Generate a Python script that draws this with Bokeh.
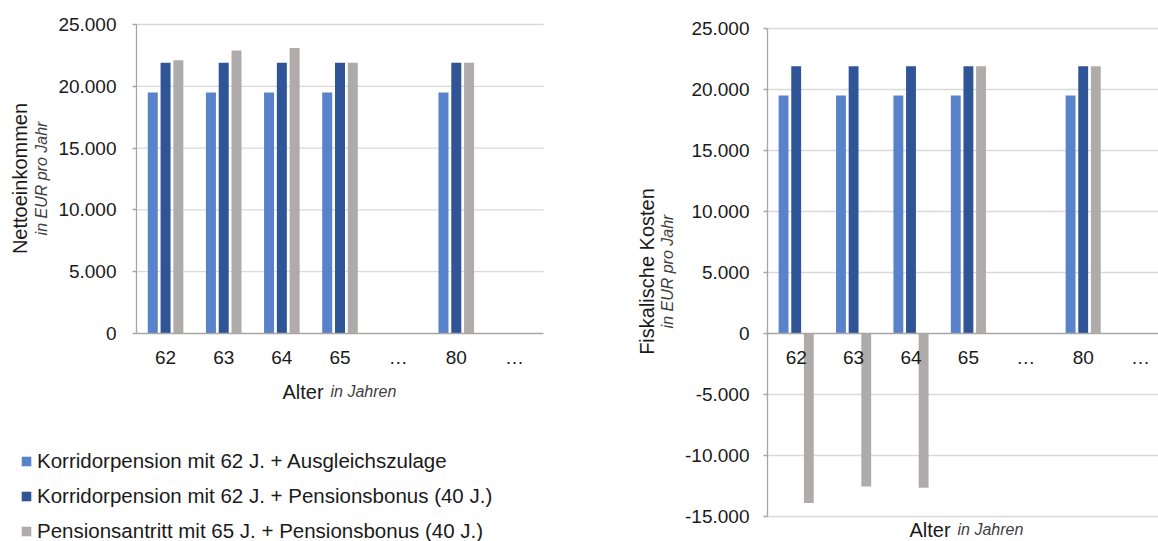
import math

from bokeh.embed import file_html
from bokeh.layouts import row
from bokeh.models import FixedTicker, Label, Legend, LegendItem, LinearAxis, Range1d
from bokeh.plotting import figure
from bokeh.resources import INLINE

# ---------------------------------------------------------------- data
ages = ["62", "63", "64", "65", "…", "80", "…"]

series_names = [
    "Korridorpension mit 62 J. + Ausgleichszulage",
    "Korridorpension mit 62 J. + Pensionsbonus (40 J.)",
    "Pensionsantritt mit 65 J. + Pensionsbonus (40 J.)",
]

# Nettoeinkommen (EUR pro Jahr)
netto_ausgleich = [19500, 19500, 19500, 19500, None, 19500, None]
netto_bonus62 = [21900, 21900, 21900, 21900, None, 21900, None]
netto_antritt65 = [22100, 22900, 23100, 21900, None, 21900, None]

# Fiskalische Kosten (EUR pro Jahr)
kosten_ausgleich = [19500, 19500, 19500, 19500, None, 19500, None]
kosten_bonus62 = [21900, 21900, 21900, 21900, None, 21900, None]
kosten_antritt65 = [-13900, -12550, -12650, 21900, None, 21900, None]

netto_ticks = [0, 5000, 10000, 15000, 20000, 25000]
kosten_ticks = [-15000, -10000, -5000, 0, 5000, 10000, 15000, 20000, 25000]

# ---------------------------------------------------------------- style
FONT = "Liberation Sans"
COLORS = ["#5882CA", "#2F5597", "#AFABAB"]
GRID = "#D9D9D9"
AXIS = "#A6A6A6"
TEXT = "#1a1a1a"
SUBTEXT = "#404040"
OFFSETS = [-0.22, 0.0, 0.22]
BAR_W = 0.172
H = 541


def de_number(v):
    return f"{v:,}".replace(",", ".")


def make_figure(width, x0_px, x_unit_px, y_top_px, y_top_val, y_bot_px, y_bot_val):
    """Figure whose frame fills the canvas; ranges place the chart area in pixels."""
    x_start = -0.5 - x0_px / x_unit_px
    x_end = x_start + width / x_unit_px
    per_px = (y_top_val - y_bot_val) / (y_bot_px - y_top_px)
    y_end = y_top_val + y_top_px * per_px
    y_start = y_bot_val - (H - y_bot_px) * per_px
    p = figure(width=width, height=H,
               x_range=Range1d(x_start, x_end), y_range=Range1d(y_start, y_end),
               output_backend="svg", toolbar_location=None,
               x_axis_location=None, y_axis_location=None,
               min_border=0, min_border_left=0, min_border_right=0,
               min_border_top=0, min_border_bottom=0)
    p.outline_line_color = None
    p.background_fill_color = "white"
    p.border_fill_color = "white"
    p.xgrid.visible = False
    p.ygrid.visible = False
    return p, x_end


def add_grid(p, ticks, x_right):
    ys = [t for t in ticks if t != 0]
    p.segment(x0=[-0.5] * len(ys), x1=[x_right] * len(ys), y0=ys, y1=ys,
              line_color=GRID, line_width=1.3)


def add_yaxis(p, ticks, standoff):
    ax = LinearAxis(fixed_location=-0.5, bounds=(min(ticks), max(ticks)),
                    ticker=FixedTicker(ticks=ticks))
    ax.major_label_overrides = {t: de_number(t) for t in ticks}
    ax.major_label_text_font = FONT
    ax.major_label_text_font_size = "19px"
    ax.major_label_text_color = TEXT
    ax.major_label_standoff = standoff
    ax.axis_line_color = AXIS
    ax.axis_line_width = 1.3
    ax.major_tick_line_color = AXIS
    ax.major_tick_line_width = 1.3
    ax.major_tick_out = 4
    ax.major_tick_in = 0
    ax.minor_tick_line_color = None
    p.add_layout(ax, "left")


def add_xaxis(p, x_right, standoff):
    ax = LinearAxis(fixed_location=0, bounds=(-0.5, x_right),
                    ticker=FixedTicker(ticks=list(range(len(ages)))))
    ax.major_label_overrides = {i: a for i, a in enumerate(ages)}
    ax.major_label_text_font = FONT
    ax.major_label_text_font_size = "19px"
    ax.major_label_text_color = TEXT
    ax.major_label_standoff = standoff
    ax.major_tick_line_color = None
    ax.minor_tick_line_color = None
    ax.axis_line_color = AXIS
    ax.axis_line_width = 1.3
    p.add_layout(ax, "below")


def add_bars(p, series):
    renderers = []
    for k, vals in enumerate(series):
        xs = [i + OFFSETS[k] for i, v in enumerate(vals) if v is not None]
        tops = [v for v in vals if v is not None]
        r = p.vbar(x=xs, top=tops, bottom=0, width=BAR_W,
                   fill_color=COLORS[k], line_color=None)
        renderers.append(r)
    return renderers


def add_titles(p, ytitle, yx, ysub_x, ymid, alter_x, jahren_x, base):
    kw = dict(x_units="screen", y_units="screen", text_font=FONT)
    p.add_layout(Label(x=yx, y=H - ymid, text=ytitle, angle=math.pi / 2,
                       text_align="center", text_baseline="middle",
                       text_font_size="20px", text_color=TEXT, **kw))
    p.add_layout(Label(x=ysub_x, y=H - ymid, text="in EUR pro Jahr", angle=math.pi / 2,
                       text_align="center", text_baseline="middle",
                       text_font_size="16px", text_font_style="italic",
                       text_color=SUBTEXT, **kw))
    p.add_layout(Label(x=alter_x, y=H - base, text="Alter",
                       text_align="left", text_baseline="alphabetic",
                       text_font_size="20px", text_color=TEXT, **kw))
    p.add_layout(Label(x=jahren_x, y=H - base, text="in Jahren",
                       text_align="left", text_baseline="alphabetic",
                       text_font_size="16px", text_font_style="italic",
                       text_color=SUBTEXT, **kw))


# ================================================================ left chart
p1, _ = make_figure(600, 136, 407 / len(ages), 24, 25000, 333, 0)
l_right = len(ages) - 0.5
add_grid(p1, netto_ticks, l_right)
left_renderers = add_bars(p1, [netto_ausgleich, netto_bonus62, netto_antritt65])
add_yaxis(p1, netto_ticks, 16)
add_xaxis(p1, l_right, 7)
add_titles(p1, "Nettoeinkommen", 19, 41, 178, 282, 330, 391)

legend = Legend(
    items=[LegendItem(label=n, renderers=[r]) for n, r in zip(series_names, left_renderers)],
    location=(20, -2),
    orientation="vertical",
    padding=0, margin=0, spacing=11,
    glyph_width=12, glyph_height=12, label_standoff=5,
    label_text_font=FONT, label_text_font_size="20.5px", label_text_color=TEXT,
    border_line_color=None, background_fill_alpha=0,
)
p1.add_layout(legend)

# ================================================================ right chart
p2, r_right = make_figure(558, 167, 57.4, 28, 25000, 516, -15000)
add_grid(p2, kosten_ticks, r_right)
add_bars(p2, [kosten_ausgleich, kosten_bonus62, kosten_antritt65])
add_yaxis(p2, kosten_ticks, 14)
add_xaxis(p2, r_right, 7)
add_titles(p2, "Fiskalische Kosten", 46, 67, 271, 309, 357, 529)

layout = row(p1, p2)
open("out.html", "w").write(file_html(layout, INLINE))
